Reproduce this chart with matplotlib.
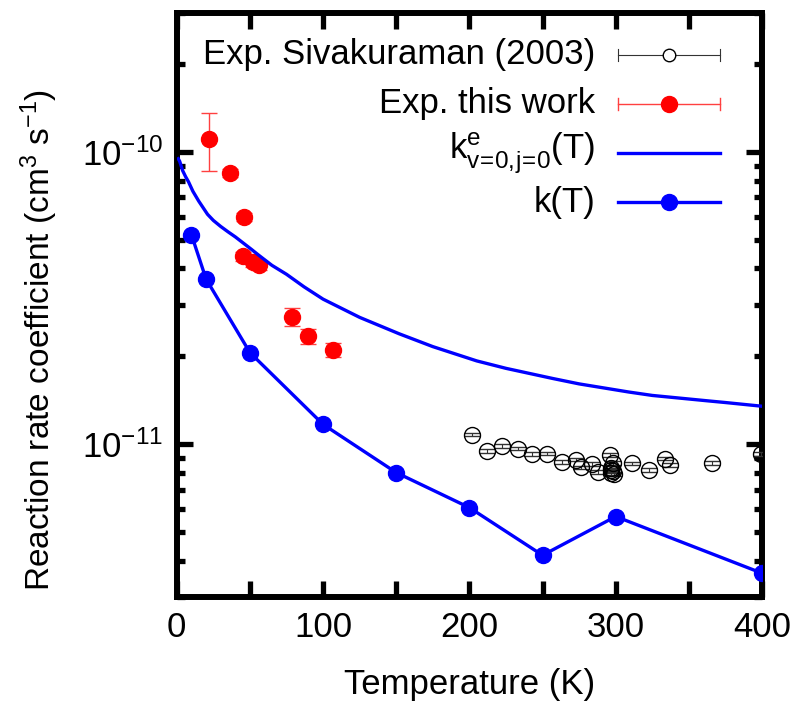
import matplotlib
matplotlib.use("Agg")
import matplotlib.pyplot as plt
from matplotlib.ticker import FixedLocator, NullFormatter, LogLocator

# --- Dados ---
# Exp. Sivakuraman (2003)
T_siv = [202, 212, 222, 233, 243, 253, 263, 273, 276, 284, 288, 296, 297, 297,
         297, 298, 298, 299, 311, 323, 334, 337, 366, 399]
k_siv = [1.08e-11, 9.46e-12, 9.84e-12, 9.67e-12, 9.25e-12, 9.30e-12, 8.71e-12,
         8.87e-12, 8.33e-12, 8.54e-12, 8.04e-12, 9.17e-12, 8.28e-12, 8.15e-12,
         8.00e-12, 8.61e-12, 8.10e-12, 7.90e-12, 8.60e-12, 8.15e-12, 8.94e-12,
         8.48e-12, 8.63e-12, 9.29e-12]
err_siv = [v * 0.015 for v in k_siv]

# Exp. this work
T_exp = [22, 36.5, 46, 45.5, 52, 56, 78.5, 90, 107]
k_exp = [1.11e-10, 8.5e-11, 6.0e-11, 4.4e-11, 4.2e-11, 4.1e-11, 2.73e-11, 2.35e-11, 2.11e-11]
err_exp = [2.5e-11, 2.5e-12, 1.8e-12, 1.5e-12, 1.4e-12, 1.4e-12, 1.9e-12, 1.4e-12, 1.2e-12]

# k^e_{v=0,j=0}(T)
T_e = [1, 2, 4, 6, 8, 11, 15, 21, 25, 30, 35, 40, 44, 51, 56, 65, 75, 87, 100,
       125, 152, 175, 205, 225, 257, 275, 309, 325, 362, 375, 400]
k_e = [9.5e-11, 9.3e-11, 8.65e-11, 8.25e-11, 7.92e-11, 7.35e-11, 6.8e-11, 6.13e-11,
       5.84e-11, 5.57e-11, 5.34e-11, 5.13e-11, 4.95e-11, 4.65e-11, 4.44e-11,
       4.1e-11, 3.82e-11, 3.46e-11, 3.14e-11, 2.72e-11, 2.39e-11, 2.16e-11,
       1.93e-11, 1.82e-11, 1.68e-11, 1.61e-11, 1.51e-11, 1.47e-11, 1.41e-11,
       1.39e-11, 1.35e-11]

# k(T)
T_k = [10, 20, 50, 100, 150, 200, 250, 300, 400]
k_k = [5.22e-11, 3.68e-11, 2.06e-11, 1.17e-11, 8.0e-12, 6.07e-12, 4.17e-12, 5.66e-12, 3.62e-12]

labels = ['Exp. Sivakuraman (2003)', 'Exp. this work',
          r'k$^{e}_{v\!=\!0,\!j\!=\!0}$(T)', 'k(T)']

# --- Estilo ---
plt.rcParams['font.family'] = ['Liberation Sans', 'DejaVu Sans']
plt.rcParams['mathtext.fontset'] = 'custom'
plt.rcParams['mathtext.rm'] = 'Liberation Sans'
plt.rcParams['mathtext.it'] = 'Liberation Sans:italic'
plt.rcParams['mathtext.default'] = 'regular'

FS = 25
azul = '#0000ff'
vermelho = '#ff0000'

fig = plt.figure(figsize=(8, 7.15), dpi=100)
ax = fig.add_axes([0.221, 0.165, 0.7315, 0.817])

ax.errorbar(T_siv, k_siv, yerr=err_siv, fmt='o', mfc='none', mec='black', ms=11.5,
            mew=1.0, ecolor='#333333', elinewidth=0.8, capsize=6, capthick=0.8, zorder=3)
ax.errorbar(T_exp, k_exp, yerr=err_exp, fmt='o', color=vermelho, ms=11.5,
            ecolor='#ff4040', elinewidth=1.0, capsize=6, capthick=1.0, zorder=4)
ax.plot(T_e, k_e, '-', color=azul, lw=2.4, zorder=5)
ax.plot(T_k, k_k, '-o', color=azul, lw=2.4, ms=11.5, zorder=5)

ax.set_yscale('log')
ax.set_xlim(0, 400)
ax.set_ylim(3e-12, 3e-10)

ax.xaxis.set_major_locator(FixedLocator([0, 100, 200, 300, 400]))
ax.xaxis.set_minor_locator(FixedLocator([50, 150, 250, 350]))
ax.yaxis.set_major_locator(FixedLocator([1e-11, 1e-10]))
ax.yaxis.set_minor_locator(LogLocator(base=10, subs=range(2, 10)))
ax.yaxis.set_minor_formatter(NullFormatter())
ax.set_yticklabels([r'10$^{-11}$', r'10$^{-10}$'])

for s in ax.spines.values():
    s.set_linewidth(4.3)
ax.tick_params(which='both', direction='in', top=True, right=True, width=3.8,
               labelsize=FS)
ax.tick_params(which='major', length=11.5)
ax.tick_params(axis='x', which='minor', length=11.5)
ax.tick_params(axis='y', which='minor', length=6)
ax.tick_params(axis='x', which='major', pad=10)
ax.tick_params(axis='y', which='major', pad=10)

ax.set_xlabel('Temperature (K)', fontsize=FS)
ax.set_ylabel(r'Reaction rate coefficient (cm$^3$ s$^{-1}$)', fontsize=24)
ax.xaxis.set_label_coords(0.5, -0.121)
ax.yaxis.set_label_coords(-0.200, 0.44)

# --- Legenda no estilo gnuplot (texto alinhado à direita) ---
x_txt, x0, x1, xm = 0.7145, 0.7538, 0.9282, 0.841
linhas_y = [0.928, 0.844, 0.760, 0.676]
tr = ax.transAxes
for yy, lab in zip(linhas_y, labels):
    ax.text(x_txt, yy, lab, transform=tr, ha='right', va='center', fontsize=FS)

# Sivakuraman
y = linhas_y[0]
ax.plot([x0, x1], [y, y], color='#333333', lw=0.8, transform=tr)
ax.plot([x0, x0], [y - 0.011, y + 0.011], color='#333333', lw=0.8, transform=tr)
ax.plot([x1, x1], [y - 0.011, y + 0.011], color='#333333', lw=0.8, transform=tr)
ax.plot([xm], [y], 'o', mfc='white', mec='black', ms=9, mew=1.0, transform=tr)
# Exp. this work
y = linhas_y[1]
ax.plot([x0, x1], [y, y], color='#ff4040', lw=1.0, transform=tr)
ax.plot([x0, x0], [y - 0.011, y + 0.011], color='#ff4040', lw=1.0, transform=tr)
ax.plot([x1, x1], [y - 0.011, y + 0.011], color='#ff4040', lw=1.0, transform=tr)
ax.plot([xm], [y], 'o', color=vermelho, ms=11.5, transform=tr)
# k^e
y = linhas_y[2]
ax.plot([x0, x1], [y, y], color=azul, lw=2.4, transform=tr)
# k(T)
y = linhas_y[3]
ax.plot([x0, x1], [y, y], color=azul, lw=2.4, transform=tr)
ax.plot([xm], [y], 'o', color=azul, ms=11.5, transform=tr)

fig.savefig('out.png', dpi=100)
